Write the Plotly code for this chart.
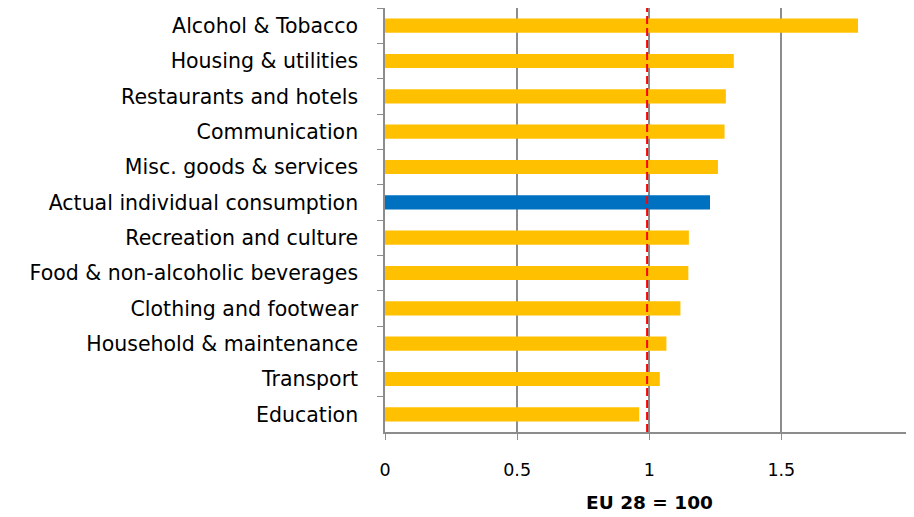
import plotly.graph_objects as go

categories = ['Alcohol & Tobacco', 'Housing & utilities', 'Restaurants and hotels',
              'Communication', 'Misc. goods & services', 'Actual individual consumption',
              'Recreation and culture', 'Food & non-alcoholic beverages',
              'Clothing and footwear', 'Household & maintenance', 'Transport', 'Education']
values = [1.79, 1.32, 1.29, 1.285, 1.26, 1.23, 1.15, 1.148, 1.118, 1.065, 1.04, 0.962]
highlight = 'Actual individual consumption'
ref_value = 0.992
tick_vals = [0, 0.5, 1, 1.5, 2]
tick_text = ['0', '0.5', '1', '1.5', '2']

colors = ['#0070C0' if c == highlight else '#FFC000' for c in categories]

fig = go.Figure(go.Bar(x=values, y=categories, orientation='h',
                       marker=dict(color=colors, line=dict(width=0)),
                       hoverinfo='x+y'))

fig.add_shape(type='line', xref='x', yref='paper', x0=ref_value, x1=ref_value,
              y0=0, y1=1, line=dict(color='red', width=2, dash='8px,4px'))

# the page body has an 8px margin, so the figure is sized and offset to fit
font = 'DejaVu Sans, sans-serif'
fig.update_layout(width=906, height=509, paper_bgcolor='white', plot_bgcolor='white',
                  margin=dict(l=377, r=0, t=0, b=85), bargap=0.6, showlegend=False,
                  font=dict(family=font, color='black'))
fig.update_xaxes(range=[0, 2.002], tickvals=tick_vals, ticktext=tick_text,
                 showgrid=True, gridcolor='#8c8c8c', gridwidth=1.5, automargin=False,
                 showline=True, linecolor='#8c8c8c', linewidth=1.5,
                 ticks='outside', ticklen=6, tickcolor='#8c8c8c',
                 tickfont=dict(size=17.5), ticklabelstandoff=15, zeroline=False,
                 ticklabeloverflow='allow',
                 title=dict(text='<b>EU 28 = 100</b>', font=dict(size=18.5), standoff=17))
fig.update_yaxes(autorange='reversed', tickson='boundaries', ticks='outside', ticklen=6,
                 tickcolor='#8c8c8c', showline=True, linecolor='#8c8c8c', linewidth=1.5,
                 showgrid=False, tickfont=dict(size=20.5), ticklabelstandoff=21,
                 automargin=False)

fig.write_html('out.html')
